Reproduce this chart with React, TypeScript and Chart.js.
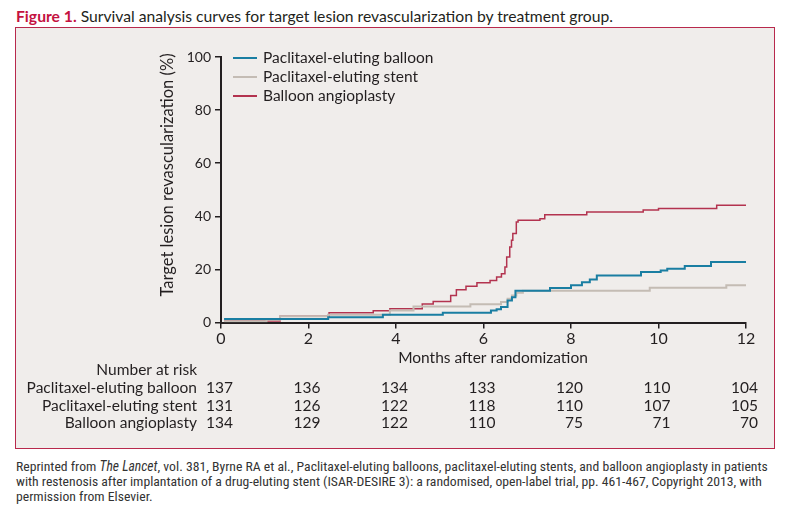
import React, { useEffect, useRef } from "react";
import { Chart, registerables } from "chart.js";
Chart.register(...registerables);

const FONT = "Lato, 'Open Sans', sans-serif";
const TEXT = "#231f20";

const seriesLabels = ["Paclitaxel-eluting balloon", "Paclitaxel-eluting stent", "Balloon angioplasty"];
const seriesColors = ["#1a7ea2", "#c4bcb4", "#b3334f"];
const seriesWidths = [2, 2, 1.5];

// Kaplan-Meier step points (months, cumulative %)
const pebMonths = [0.07, 2.45, 3.7, 5.07, 6.17, 6.3, 6.4, 6.55, 6.65, 6.73, 7.52, 8.0, 8.25, 8.43, 8.59, 9.6, 10.05, 10.2, 10.6, 11.2, 12];
const pebValues = [1.3, 2.0, 2.9, 3.7, 4.5, 5.0, 5.8, 8.3, 9.5, 12.0, 13.0, 14.0, 15.2, 16.2, 17.7, 19.0, 19.6, 20.2, 21.3, 22.8, 22.9];

const pesMonths = [0.07, 1.04, 1.35, 2.45, 3.86, 4.4, 5.7, 6.4, 6.55, 6.65, 6.75, 6.9, 9.8, 11.55, 12];
const pesValues = [0.5, 1.0, 2.4, 2.9, 4.5, 6.0, 6.9, 7.7, 8.9, 10.2, 11.2, 12.0, 13.1, 14.0, 14.0];

const baMonths = [0.07, 1.35, 2.47, 3.48, 3.86, 4.6, 4.85, 5.25, 5.38, 5.6, 5.85, 6.15, 6.3, 6.41, 6.49, 6.53, 6.6, 6.64, 6.67, 6.75, 6.79, 7.29, 7.4, 8.36, 9.65, 10.0, 11.33, 12];
const baValues = [0.6, 2.4, 3.7, 4.4, 5.2, 7.0, 7.9, 10.2, 12.3, 13.7, 15.0, 15.8, 17.1, 18.4, 20.9, 24.7, 28.4, 31.0, 33.5, 37.9, 38.5, 39.1, 40.6, 41.6, 42.4, 42.9, 44.2, 44.4];

const xTicks = [0, 2, 4, 6, 8, 10, 12];
const yTicks = [0, 20, 40, 60, 80, 100];

const riskMonths = [0, 2, 4, 6, 8, 10, 12];
const riskPEB = [137, 136, 134, 133, 120, 110, 104];
const riskPES = [131, 126, 122, 118, 110, 107, 105];
const riskBA = [134, 129, 122, 110, 75, 71, 70];
const riskRows = [riskPEB, riskPES, riskBA];

const xTitle = "Months after randomization";
const yTitle = "Target lesion revascularization (%)";
const riskTitle = "Number at risk";

const overlay = {
  id: "overlay",
  afterDraw(chart: any) {
    const ctx = chart.ctx as CanvasRenderingContext2D;
    const xs = chart.scales.x;
    ctx.save();
    ctx.fillStyle = TEXT;
    // y title
    ctx.save();
    ctx.translate(153, 148);
    ctx.rotate(-Math.PI / 2);
    ctx.font = `16.5px ${FONT}`;
    ctx.textAlign = "center";
    ctx.textBaseline = "middle";
    ctx.fillText(yTitle, 0, 0);
    ctx.restore();
    // x title
    ctx.font = `15.5px ${FONT}`;
    ctx.textAlign = "center";
    ctx.textBaseline = "middle";
    ctx.fillText(xTitle, 478, 331);
    // legend
    ctx.font = `15.5px ${FONT}`;
    ctx.textAlign = "left";
    seriesLabels.forEach((lab, i) => {
      const y = 31 + i * 19;
      ctx.strokeStyle = seriesColors[i];
      ctx.lineWidth = 2;
      ctx.beginPath();
      ctx.moveTo(218, y);
      ctx.lineTo(242, y);
      ctx.stroke();
      ctx.fillText(lab, 248, y);
    });
    // risk table
    ctx.font = `15.5px ${FONT}`;
    ctx.textAlign = "right";
    ctx.fillText(riskTitle, 182, 342.5);
    riskRows.forEach((row, r) => {
      const y = 360.7 + r * 17.8;
      ctx.textAlign = "right";
      ctx.fillText(seriesLabels[r], 182, y);
      row.forEach((v, c) => {
        ctx.fillText(String(v), xs.getPixelForValue(riskMonths[c]) + 12, y);
      });
    });
    ctx.restore();
  },
};

export default function App() {
  const ref = useRef<HTMLCanvasElement>(null);
  useEffect(() => {
    if (!ref.current) return;
    const mk = (m: number[], v: number[]) => m.map((t, i) => ({ x: t, y: v[i] }));
    const chart = new Chart(ref.current, {
      type: "line",
      data: {
        datasets: [
          { label: seriesLabels[0], data: mk(pebMonths, pebValues) },
          { label: seriesLabels[1], data: mk(pesMonths, pesValues) },
          { label: seriesLabels[2], data: mk(baMonths, baValues) },
        ].map((d, i) => ({
          ...d,
          borderColor: seriesColors[i],
          borderWidth: seriesWidths[i],
          stepped: "before" as const,
          pointRadius: 0,
          fill: false,
        })),
      },
      options: {
        animation: false,
        responsive: false,
        devicePixelRatio: 1,
        layout: { padding: { left: 0, right: 29, top: 30, bottom: 0 } },
        plugins: { legend: { display: false }, tooltip: { enabled: false } },
        scales: {
          x: {
            type: "linear",
            min: 0,
            max: 12,
            afterBuildTicks: (s: any) => {
              s.ticks = xTicks.map((v) => ({ value: v }));
            },
            afterFit: (s: any) => {
              s.height = 126.5;
            },
            ticks: { font: { family: FONT, size: 16 }, color: TEXT, padding: 1, maxRotation: 0 },
            grid: { drawOnChartArea: false, drawTicks: true, tickLength: 6, color: TEXT, lineWidth: 1.5 },
            border: { display: true, color: TEXT, width: 2 },
          },
          y: {
            type: "linear",
            min: 0,
            max: 100,
            afterBuildTicks: (s: any) => {
              s.ticks = yTicks.map((v) => ({ value: v }));
            },
            afterFit: (s: any) => {
              s.width = 206;
            },
            ticks: { font: { family: FONT, size: 14 }, color: TEXT, padding: 4 },
            grid: { drawOnChartArea: false, drawTicks: true, tickLength: 6, color: TEXT, lineWidth: 1.5 },
            border: { display: true, color: TEXT, width: 2 },
          },
        },
      },
      plugins: [overlay],
    });
    return () => chart.destroy();
  }, []);

  return (
    <div style={{ position: "absolute", left: 0, top: 0, width: 800, height: 508, background: "#fff", overflow: "hidden", fontFamily: FONT, color: TEXT }}>
      <div style={{ position: "absolute", left: 16, top: 6, fontSize: 15.7, lineHeight: "20px", whiteSpace: "nowrap" }}>
        <span style={{ color: "#c4123f", fontWeight: 700 }}>Figure 1.</span> Survival analysis curves for target lesion revascularization by treatment group.
      </div>
      <div style={{ position: "absolute", left: 15, top: 27, width: 760, height: 422, boxSizing: "border-box", border: "1.5px solid #b8294c", background: "#f0edeb" }} />
      <canvas ref={ref} width={760} height={422} style={{ position: "absolute", left: 15, top: 27, width: 760, height: 422 }} />
      <div style={{ position: "absolute", left: 16, top: 459, width: 780, fontSize: 13.7, lineHeight: "15px", whiteSpace: "nowrap", fontFamily: "'Liberation Sans Narrow', 'Roboto Condensed', Roboto, sans-serif", color: "#333" }}>
        Reprinted from <i>The Lancet</i>, vol. 381, Byrne RA et al., Paclitaxel-eluting balloons, paclitaxel-eluting stents, and balloon angioplasty in patients
        <br />with restenosis after implantation of a drug-eluting stent (ISAR-DESIRE 3): a randomised, open-label trial, pp. 461-467, Copyright 2013, with
        <br />permission from Elsevier.
      </div>
    </div>
  );
}
